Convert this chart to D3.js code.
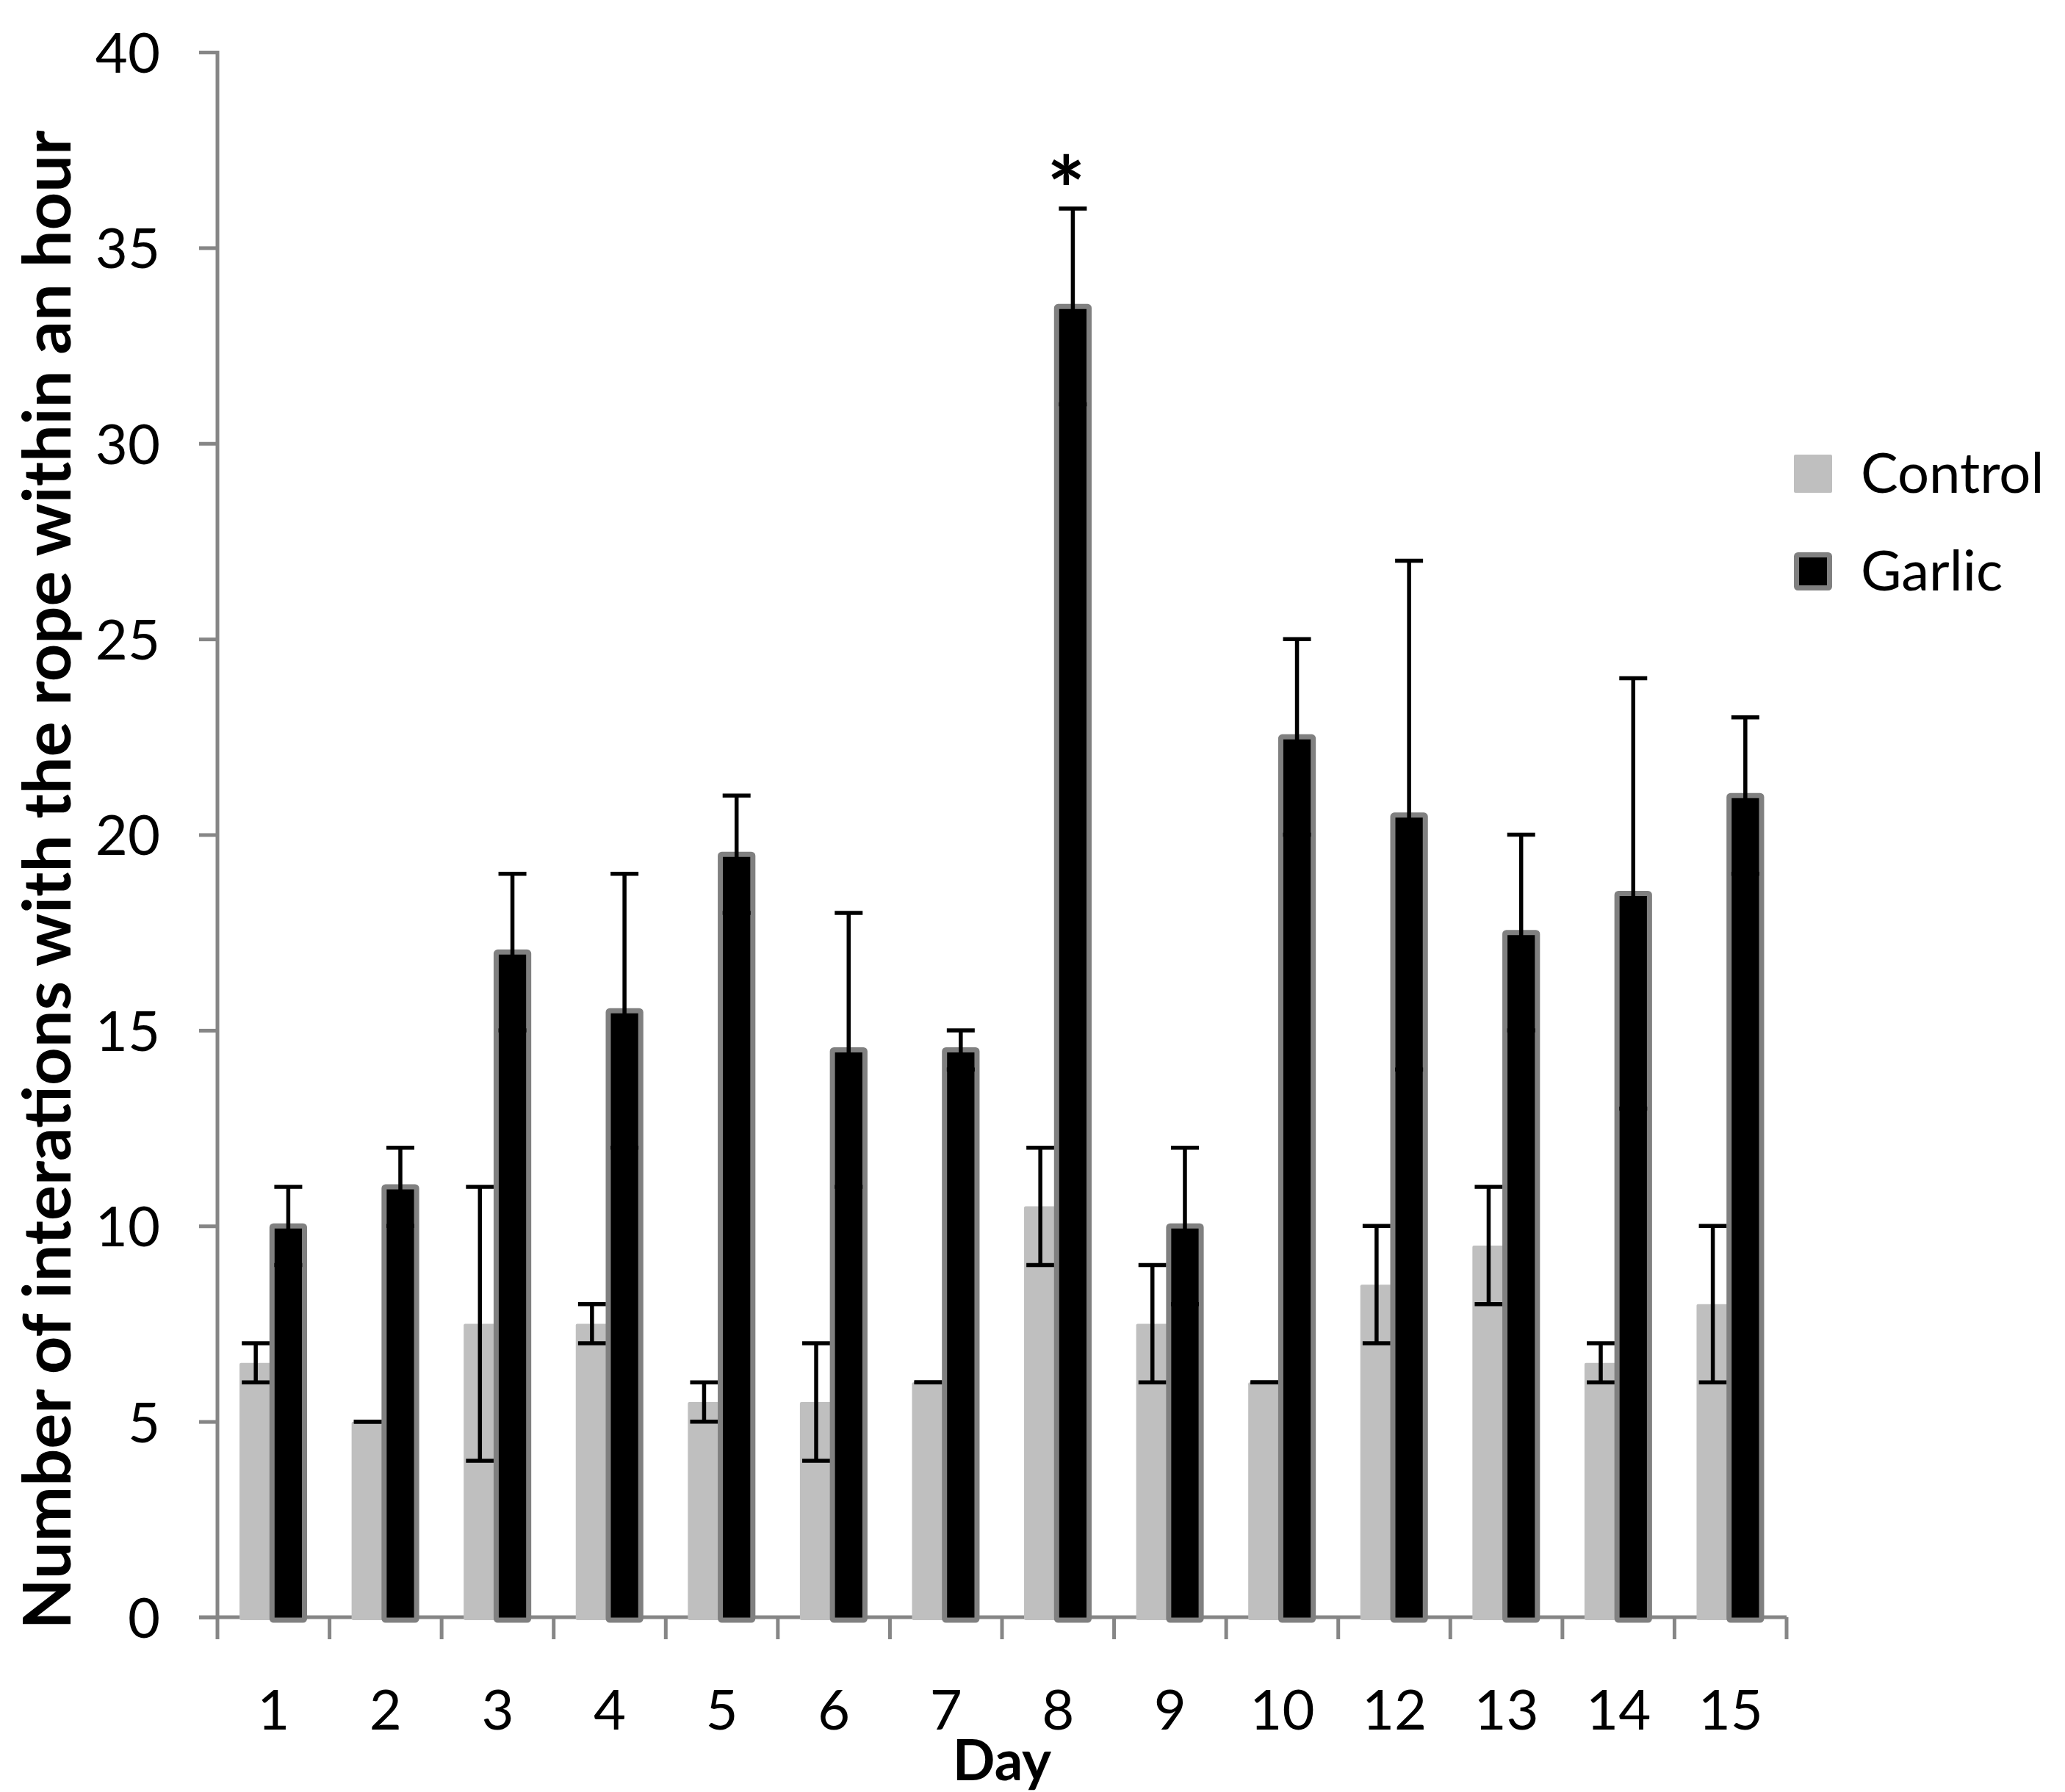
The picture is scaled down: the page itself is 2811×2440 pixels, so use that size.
<!DOCTYPE html>
<html>
<head>
<meta charset="utf-8">
<script src="https://cdn.jsdelivr.net/npm/d3@7"></script>
<style>
  body { margin: 0; background: #ffffff; }
  svg text { font-family: Lato, "Open Sans", sans-serif; fill: #000000; }
  .axis path, .axis line { stroke: #868686; stroke-width: 5; }
</style>
</head>
<body>
<svg id="chart"></svg>
<script>
//Chart data
var days = ["1", "2", "3", "4", "5", "6", "7", "8", "9", "10", "12", "13", "14", "15"];
var controlMeans = [6.5, 5, 7.5, 7.5, 5.5, 5.5, 6, 10.5, 7.5, 6, 8.5, 9.5, 6.5, 8];
var controlErrors = [0.5, 0, 3.5, 0.5, 0.5, 1.5, 0, 1.5, 1.5, 0, 1.5, 1.5, 0.5, 2];
var garlicMeans = [10, 11, 17, 15.5, 19.5, 14.5, 14.5, 33.5, 10, 22.5, 20.5, 17.5, 18.5, 21];
var garlicErrors = [1, 1, 2, 3.5, 1.5, 3.5, 0.5, 2.5, 2, 2.5, 6.5, 2.5, 5.5, 2];
var yTicks = [0, 5, 10, 15, 20, 25, 30, 35, 40];
var seriesNames = ["Control", "Garlic"];
var significantDays = ["8"];

//Graph settings
var screen = { width: 2811, height: 2440 };
var plot = { left: 296, right: 2432, top: 71, bottom: 2202 };

var svg = d3.select("#chart")
            .attr("width", screen.width)
            .attr("height", screen.height);

var xScale = d3.scaleBand()
               .domain(days)
               .range([plot.left, plot.right])
               .paddingInner(0)
               .paddingOuter(0);

var yScale = d3.scaleLinear()
               .domain([0, 40])
               .range([plot.bottom, plot.top]);

var bandW = xScale.bandwidth();
var barW = bandW * 0.29;
var barOffset = (bandW - 2 * barW) / 2 - 2;
var capW = 38;

var seriesX = d3.scaleOrdinal()
                .domain(seriesNames)
                .range([barOffset, barOffset + barW]);

//table of rows built from the arrays
var rows = days.map(function(day, i){
  return [
    { day: day, series: "Control", mean: controlMeans[i], err: controlErrors[i] },
    { day: day, series: "Garlic", mean: garlicMeans[i], err: garlicErrors[i] }
  ];
});
var controlRows = rows.map(function(r){ return r[0]; });
var garlicRows = rows.map(function(r){ return r[1]; });

//Y axis
var yAxis = d3.axisLeft(yScale)
              .tickValues(yTicks)
              .tickSize(25)
              .tickPadding(53)
              .tickSizeOuter(0);

svg.append("g")
   .attr("class", "axis y-axis")
   .attr("transform", "translate(" + plot.left + ",0)")
   .call(yAxis)
   .call(function(g){
     g.select(".domain").attr("d", "M0," + (plot.top - 2) + "V" + (plot.bottom + 2));
     g.selectAll("text").style("font-size", "76px").attr("dy", "0.36em");
   });

//X axis: ticks at category boundaries
var xAxis = d3.axisBottom(xScale).tickSize(0).tickPadding(0);
var xAxisG = svg.append("g")
   .attr("class", "axis x-axis")
   .attr("transform", "translate(0," + plot.bottom + ")")
   .call(xAxis);
xAxisG.select(".domain").attr("d", "M" + (plot.left - 25) + ",0H" + plot.right);
xAxisG.selectAll(".tick line").remove();
xAxisG.selectAll("text")
      .style("font-size", "76px")
      .attr("y", 153)
      .attr("dy", 0);

var boundaries = days.concat(["end"]).map(function(d, i){ return plot.left + i * bandW; });
xAxisG.selectAll(".boundary")
      .data(boundaries)
      .enter()
      .append("line")
      .attr("class", "boundary")
      .attr("x1", function(b){ return b; })
      .attr("x2", function(b){ return b; })
      .attr("y1", 0)
      .attr("y2", 30);

//Bars
var drawBars = function(data, fill, stroke, strokeW){
  svg.append("g")
     .selectAll("rect")
     .data(data)
     .enter()
     .append("rect")
     .attr("x", function(d){ return xScale(d.day) + seriesX(d.series); })
     .attr("y", function(d){ return yScale(d.mean); })
     .attr("width", barW)
     .attr("height", function(d){ return yScale(0) - yScale(d.mean) + 4; })
     .attr("rx", 2)
     .attr("fill", fill)
     .attr("stroke", stroke)
     .attr("stroke-width", strokeW);
};

var drawErrors = function(data){
  var g = svg.append("g").attr("stroke", "#000000").attr("stroke-width", 5.5);
  var cx = function(d){ return xScale(d.day) + seriesX(d.series) + barW / 2; };
  g.selectAll(".err-line")
   .data(data.filter(function(d){ return d.err > 0; }))
   .enter()
   .append("line")
   .attr("x1", cx).attr("x2", cx)
   .attr("y1", function(d){ return yScale(d.mean - d.err); })
   .attr("y2", function(d){ return yScale(d.mean + d.err); });
  //caps top and bottom
  ["top", "bottom"].forEach(function(side){
    g.selectAll(".cap-" + side)
     .data(data)
     .enter()
     .append("line")
     .attr("x1", function(d){ return cx(d) - capW / 2; })
     .attr("x2", function(d){ return cx(d) + capW / 2; })
     .attr("y1", function(d){ return yScale(side == "top" ? d.mean + d.err : d.mean - d.err); })
     .attr("y2", function(d){ return yScale(side == "top" ? d.mean + d.err : d.mean - d.err); });
  });
};

drawBars(controlRows, "#bfbfbf", "none", 0);
drawErrors(controlRows);
drawBars(garlicRows, "#000000", "#808080", 7);
drawErrors(garlicRows);

//significance mark
svg.append("g")
   .selectAll("text")
   .data(garlicRows.filter(function(d){ return significantDays.indexOf(d.day) >= 0; }))
   .enter()
   .append("text")
   .attr("x", function(d){ return xScale(d.day) + seriesX(d.series) + barW / 2 - 9; })
   .attr("y", function(d){ return yScale(d.mean + d.err) + 20; })
   .attr("text-anchor", "middle")
   .style("font-size", "124px")
   .style("font-weight", "bold")
   .text("*");

//Axis titles
svg.append("text")
   .attr("x", (plot.left + plot.right) / 2)
   .attr("y", 2424)
   .attr("text-anchor", "middle")
   .style("font-size", "76px")
   .style("font-weight", "bold")
   .text("Day");

svg.append("text")
   .attr("transform", "translate(96," + 1198 + ") rotate(-90)")
   .attr("text-anchor", "middle")
   .style("font-size", "90px")
   .style("font-weight", "bold")
   .text("Number of interations with the rope within an hour");

//Legend
var legendFill = d3.scaleOrdinal().domain(seriesNames).range(["#bfbfbf", "#000000"]);
var legend = svg.append("g")
                .selectAll("g")
                .data(seriesNames)
                .enter()
                .append("g")
                .attr("transform", function(d, i){ return "translate(2442," + (619 + i * 133) + ")"; });

legend.append("rect")
      .attr("x", function(d){ return d == "Garlic" ? 3.5 : 0; })
      .attr("y", function(d){ return d == "Garlic" ? 3.5 : 0; })
      .attr("width", function(d){ return d == "Garlic" ? 45 : 52; })
      .attr("height", function(d){ return d == "Garlic" ? 45 : 52; })
      .attr("rx", 2)
      .attr("fill", function(d){ return legendFill(d); })
      .attr("stroke", function(d){ return d == "Garlic" ? "#808080" : "none"; })
      .attr("stroke-width", 7);

legend.append("text")
      .attr("x", 91)
      .attr("y", 52)
      .style("font-size", "76px")
      .text(function(d){ return d; });
</script>
</body>
</html>
